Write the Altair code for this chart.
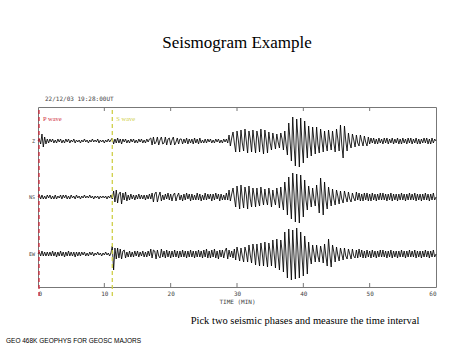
import altair as alt
import pandas as pd

# ---- data (amplitudes in plot pixels, 0.2-min steps) ----
STEP_MIN = 0.2
trace_names = ["Z", "NS", "EW"]
trace_offsets = [146, 90, 33]

z_amp = [
    0, 2, -3, 7, -6, 4, -3, 2, -2, 2,
    -1, 2, -2, 1, -2, 2, -1, 2, -2, 1,
    -2, 2, -1, 2, -2, 1, -1, 2, -2, 1,
    -1, 1, -2, 1, -1, 2, -1, 1, -2, 1,
    -1, 2, -1, 1, -1, 2, -2, 1, -1, 1,
    -2, 1, -1, 2, -1, 1, 3, -3, 2, -2,
    3, -2, 2, -3, 2, -1, 2, -2, 1, -2,
    2, -1, 2, -2, 1, -2, 2, -1, 2, -2,
    1, -2, 2, -1, 2, 3, -4, 4, -3, -1,
    4, -4, 1, 4, -3, -2, 4, -4, 2, 3,
    -4, 1, 4, -4, -1, 3, -3, 2, 2, -3,
    2, -2, 3, -3, 2, -2, 2, -3, 3, -2,
    2, -3, 3, -2, 1, -2, 2, -2, 2, -1,
    2, -2, 1, -2, 2, -1, 2, -2, 1, -2,
    2, -1, 2, -2, 6, -5, 3, 9, -2, -11,
    10, 1, -11, 11, -2, -10, 12, 0, -12, 10,
    2, -11, 11, -1, -12, 10, 3, -11, 12, -2,
    -13, 11, 1, -12, 9, -2, -9, 8, 0, -8,
    7, -1, -7, 8, 2, -9, 10, -3, -14, 18,
    0, -20, 24, -4, -25, 22, 2, -26, 23, -3,
    -22, 20, 1, -17, 15, -2, -15, 14, 0, -13,
    14, -3, -12, 12, 1, -11, 10, -2, -10, 11,
    0, -9, 10, -2, -11, 12, 2, -10, 16, -4,
    -17, 15, 0, -10, 8, -2, -7, 7, 1, -6,
    6, -2, -5, 6, 0, -5, 5, -1, -5, 4,
    -3, 3, -2, 3, -3, 2, -3, 3, -2, 2,
    -3, 3, -2, 3, -3, 2, -2, 3, -3, 2,
    -2, 3, -3, 2, -3, 3, -2, 2, -3, 3,
    -2, 3, -3, 2, -2, 3, -3, 2, -3, 2,
    -2, 3, -2, 3, -3, 2, -3, 3, -2, 2,
    0,
]

ns_amp = [
    0, 2, -2, 2, -2, 1, -2, 2, -1, 2,
    -2, 1, -2, 2, -2, 1, -1, 2, -2, 2,
    -1, 2, -2, 1, -2, 2, -1, 1, -2, 2,
    -1, 1, -2, 1, -1, 2, -1, 1, -1, 2,
    -1, 1, -2, 1, -1, 1, -2, 1, -1, 1,
    -1, 1, -2, 1, -1, 2, -2, 6, -5, 7,
    -6, 3, 5, -7, 4, -3, 5, -4, 2, -3,
    3, -2, 2, -3, 2, -2, 3, -2, 2, -2,
    2, -3, 2, -2, 3, -2, 4, -5, 3, 5,
    -5, 1, 5, -4, 2, -3, 3, -2, 4, -3,
    3, -4, 2, 4, -4, 1, 4, -3, 2, -4,
    3, -3, 4, -2, 3, -4, 3, -3, 2, -3,
    4, -3, 3, -4, 2, -3, 4, -3, 3, -2,
    3, -4, 3, -3, 4, -2, 3, -4, 3, -3,
    2, -3, 4, -3, 7, -4, 3, 9, -1, -10,
    11, 0, -12, 12, -1, -11, 10, 2, -12, 11,
    -2, -10, 9, 1, -10, 9, -3, -9, 10, 0,
    -8, 8, -2, -8, 9, 1, -10, 7, -2, -8,
    9, 0, -11, 10, -3, -13, 15, 2, -18, 20,
    -2, -22, 24, 3, -25, 23, -4, -26, 22, 1,
    -20, 17, -3, -13, 11, 0, -10, 9, -2, -9,
    12, -1, -16, 19, 2, -18, 15, -3, -12, 10,
    0, -9, 8, -2, -8, 7, 1, -7, 6, -2,
    -6, 6, 0, -5, 5, -2, -5, 4, -1, -4,
    5, -3, 4, -4, 3, -4, 4, -3, 4, -4,
    3, -4, 4, -3, 3, -4, 3, -3, 4, -3,
    4, -3, 3, -4, 3, -3, 4, -4, 3, -3,
    3, -4, 3, -3, 4, -3, 3, -4, 3, -3,
    4, -3, 3, -3, 4, -4, 3, -3, 3, -4,
    3, -3, 4, -3, 3, -4, 3, -3, 4, -3,
    0,
]

ew_amp = [
    0, 2, -2, 3, -2, 2, -2, 2, -2, 2,
    -2, 3, -2, 2, -3, 2, -2, 3, -2, 2,
    -3, 2, -2, 3, -2, 2, -2, 2, -3, 2,
    -2, 2, -2, 2, -1, 2, -2, 1, -2, 2,
    -1, 2, -2, 1, -1, 2, -1, 1, -2, 1,
    -1, 2, -1, 1, -2, 1, 8, -16, 6, -5,
    6, -4, 5, -5, 3, 4, -4, 2, -3, 3,
    -3, 2, -3, 3, -2, 3, -3, 2, -2, 3,
    -3, 2, -3, 3, -2, 5, -4, 4, 3, -5,
    4, -2, -4, 5, -3, 3, -4, 4, -3, 3,
    -4, 3, -3, 4, -3, 3, -4, 3, -3, 4,
    -3, 3, -4, 3, -3, 4, -3, 3, -4, 3,
    -3, 4, -3, 3, -4, 4, -3, 5, -4, 3,
    -4, 4, -3, 5, -4, 3, -5, 4, -3, 4,
    -4, 3, 6, -5, 4, -3, 3, -4, 5, -6,
    7, 0, -7, 6, -2, -8, 7, 1, -8, 9,
    -1, -9, 10, 2, -11, 10, -2, -12, 11, 1,
    -12, 12, -2, -13, 11, 2, -12, 14, 0, -14,
    15, -2, -16, 14, 3, -18, 22, -2, -24, 25,
    2, -26, 24, -3, -25, 26, 1, -24, 22, -2,
    -22, 18, 2, -20, 12, -2, -10, 9, 1, -8,
    9, -2, -8, 8, 1, -9, 10, -2, -12, 15,
    -1, -13, 9, 2, -8, 7, -1, -7, 6, 0,
    -6, 6, -2, -5, 5, 0, -5, 5, -2, -4,
    4, -4, 5, -3, 4, -4, 3, -4, 4, -3,
    3, -4, 4, -3, 3, -4, 3, -3, 4, -3,
    4, -3, 3, -4, 3, -3, 4, -4, 3, -3,
    3, -4, 3, -3, 4, -3, 3, -4, 3, -3,
    4, -3, 3, -3, 4, -4, 3, -3, 3, -4,
    3, -3, 4, -3, 3, -4, 3, -3, 4, -3,
    0,
]

phase_names = ["P wave", "S wave"]
phase_times = [0.15, 11.2]
phase_colors = ["#d02a3c", "#cfcf48"]

x_ticks = [0, 10, 20, 30, 40, 50, 60]
inner_ticks = [10, 20, 30, 40, 50]

title_text = "Seismogram Example"
date_text = "22/12/03  19:28:00UT"
caption_text = "Pick two seismic phases and measure the time interval"
footer_text = "GEO 468K GEOPHYS FOR GEOSC MAJORS"

# ---- build tables ----
rows = []
for name, off, amps in zip(trace_names, trace_offsets, [z_amp, ns_amp, ew_amp]):
    for i, a in enumerate(amps):
        rows.append({"trace": name, "t": round(i * STEP_MIN, 2), "y": off + a})
wave_df = pd.DataFrame(rows)

phase_df = pd.DataFrame({"name": phase_names, "t": phase_times, "color": phase_colors,
                         "y": [177] * 2, "y2": [-10] * 2})
label_df = pd.DataFrame({"name": trace_names, "y": trace_offsets})
tick_df = pd.DataFrame({"t": inner_ticks})

W, H = 398, 180
xs = alt.Scale(domain=[0, 60], nice=False, zero=False)
ys = alt.Scale(domain=[0, 180], nice=False, zero=False)

xaxis = alt.Axis(values=x_ticks, format="d", ticks=False, domain=False, grid=False,
                 labelFont="DejaVu Sans Mono", labelFontSize=6, labelColor="#444",
                 labelPadding=3, title="TIME (MIN)", titleFont="DejaVu Sans Mono",
                 titleFontSize=6, titleFontWeight="normal", titleColor="#444",
                 titlePadding=2)

waves = alt.Chart(wave_df).mark_line(color="black", strokeWidth=0.85, interpolate="linear").encode(
    x=alt.X("t:Q", scale=xs, axis=xaxis),
    y=alt.Y("y:Q", scale=ys, axis=None),
    detail="trace:N",
)

phase_lines = alt.Chart(phase_df).mark_rule(strokeDash=[4, 3], strokeWidth=1.3).encode(
    x=alt.X("t:Q", scale=xs),
    y=alt.Y("y:Q", scale=ys),
    y2="y2:Q",
    color=alt.Color("color:N", scale=None),
)

phase_text = alt.Chart(phase_df).mark_text(align="left", baseline="middle", dx=4,
                                           font="Liberation Serif", fontSize=6.5).encode(
    x=alt.X("t:Q", scale=xs),
    y=alt.value(12),
    text="name:N",
    color=alt.Color("color:N", scale=None),
)

top_ticks = alt.Chart(tick_df).mark_rule(color="#777", strokeWidth=1).encode(
    x=alt.X("t:Q", scale=xs), y=alt.value(0), y2=alt.value(4))
bot_ticks = alt.Chart(tick_df).mark_rule(color="#777", strokeWidth=1).encode(
    x=alt.X("t:Q", scale=xs), y=alt.value(H - 4), y2=alt.value(H))

trace_labels = alt.Chart(label_df).mark_text(align="right", baseline="middle",
                                             font="DejaVu Sans Mono", fontSize=5,
                                             color="#444").encode(
    x=alt.value(-3), y=alt.Y("y:Q", scale=ys), text="name:N")


def fixed_text(txt, x, y, **kw):
    return alt.Chart(pd.DataFrame({"s": [txt]})).mark_text(**kw).encode(
        x=alt.value(x), y=alt.value(y), text="s:N")


title = fixed_text(title_text, 199, -59, align="center", baseline="alphabetic",
                   font="Liberation Serif", fontSize=17, color="black")
date = fixed_text(date_text, 7, -8, align="left", baseline="middle",
                  font="DejaVu Sans Mono", fontSize=6, color="#444")
caption = fixed_text(caption_text, 267, 217, align="center", baseline="alphabetic",
                     font="Liberation Serif", fontSize=10.5, color="black")
footer = fixed_text(footer_text, -32, 236, align="left", baseline="alphabetic",
                    font="Liberation Sans", fontSize=6.5, color="black")

chart = alt.layer(
    top_ticks, bot_ticks, waves, phase_lines, phase_text, trace_labels,
    title, date, caption, footer,
).properties(
    width=W, height=H,
    autosize=alt.AutoSizeParams(type="none"),
    padding={"left": 38, "top": 107, "right": 38, "bottom": 68},
    background="white",
).configure_view(stroke="#777", strokeWidth=1)

chart.save("out.html", embed_options={"renderer": "svg", "actions": False})
